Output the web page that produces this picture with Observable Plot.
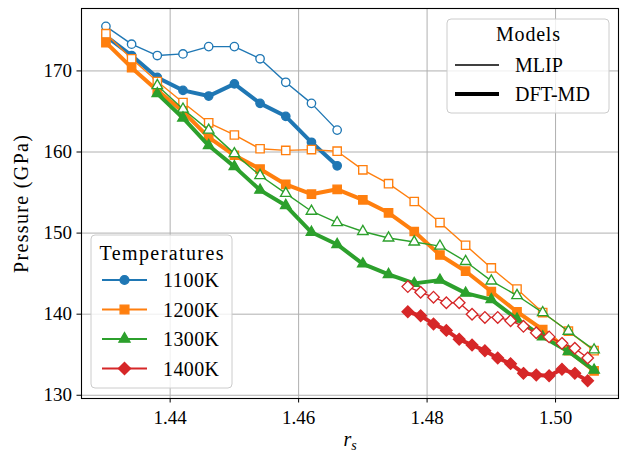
<!DOCTYPE html>
<html><head><meta charset="utf-8">
<script src="https://cdn.jsdelivr.net/npm/d3@7"></script>
<script src="https://cdn.jsdelivr.net/npm/@observablehq/plot@0.6"></script>
<style>
body{margin:0;background:#fff;}
#chart{width:620px;height:453px;}
</style></head><body><div id="chart"></div>
<script>
// ---- data ----
const temperatures = ["1100K", "1200K", "1300K", "1400K"];
const colors = ["#1f77b4", "#ff7f0e", "#2ca02c", "#d62728"];
const symbols = ["circle", "square", "triangle", "diamond2"];
const models = ["MLIP", "DFT-MD"];

const rs1100 = [1.430, 1.434, 1.438, 1.442, 1.446, 1.450, 1.454, 1.458, 1.462, 1.466];
const p1100_mlip = [175.5, 173.3, 171.9, 172.1, 173.0, 173.0, 171.5, 168.6, 166.0, 162.7];
const p1100_dft = [174.3, 171.9, 169.2, 167.6, 166.9, 168.4, 166.0, 164.4, 161.2, 158.3];

const rs1200 = [1.430, 1.434, 1.438, 1.442, 1.446, 1.450, 1.454, 1.458, 1.462, 1.466,
                1.470, 1.474, 1.478, 1.482, 1.486, 1.490, 1.494, 1.498, 1.502, 1.506];
const p1200_mlip = [174.6, 171.5, 168.7, 166.1, 163.6, 162.1, 160.4, 160.2, 160.3, 160.1,
                    157.8, 156.1, 153.9, 151.3, 148.5, 145.7, 143.1, 140.2, 137.9, 135.5];
const p1200_dft = [173.5, 170.4, 167.6, 165.0, 161.8, 159.6, 157.9, 156.0, 154.8, 155.4,
                   154.1, 152.5, 150.2, 147.3, 145.3, 142.8, 140.3, 138.1, 135.5, 133.0];

const rs1300 = [1.438, 1.442, 1.446, 1.450, 1.454, 1.458, 1.462, 1.466, 1.470, 1.474,
                1.478, 1.482, 1.486, 1.490, 1.494, 1.498, 1.502, 1.506];
const p1300_mlip = [168.2, 165.3, 162.7, 159.8, 157.1, 154.9, 152.7, 151.3, 150.2, 149.4,
                    148.9, 148.4, 146.5, 144.1, 142.3, 140.2, 137.9, 135.6];
const p1300_dft = [167.2, 164.2, 160.8, 158.2, 155.3, 153.4, 150.1, 148.6, 146.2, 144.9,
                   143.8, 144.2, 142.6, 141.8, 139.4, 137.2, 135.4, 133.1];

const rs1400 = [1.477, 1.479, 1.481, 1.483, 1.485, 1.487, 1.489, 1.491, 1.493, 1.495,
                1.497, 1.499, 1.501, 1.503, 1.505];
const p1400_mlip = [143.4, 142.7, 142.1, 141.4, 141.4, 140.0, 139.6, 139.6, 139.2, 138.5,
                    137.7, 137.2, 136.4, 135.8, 134.6];
const p1400_dft = [140.3, 139.8, 138.8, 138.0, 136.9, 136.2, 135.5, 134.6, 133.9, 132.7,
                   132.5, 132.4, 133.2, 132.7, 131.8];

const xTicks = [1.44, 1.46, 1.48, 1.50];
const yTicks = [130, 140, 150, 160, 170];

// ---- build ----
const groups = [
  [rs1100, p1100_mlip, p1100_dft],
  [rs1200, p1200_mlip, p1200_dft],
  [rs1300, p1300_mlip, p1300_dft],
  [rs1400, p1400_mlip, p1400_dft]
];
const markR = {circle: 4.2, square: 4.7, triangle: 3.9, diamond2: 5.2};
const FONT = "'Liberation Serif', 'DejaVu Serif', serif";

const marks = [
  Plot.gridX(xTicks, {stroke: "#b0b0b0", strokeOpacity: 1, strokeWidth: 1}),
  Plot.gridY(yTicks, {stroke: "#b0b0b0", strokeOpacity: 1, strokeWidth: 1})
];
groups.forEach(([xs, pm, pd], i) => {
  const c = colors[i], sym = symbols[i];
  const mlip = xs.map((x, j) => ({x, y: pm[j]}));
  const dft = xs.map((x, j) => ({x, y: pd[j]}));
  marks.push(Plot.line(mlip, {x: "x", y: "y", stroke: c, strokeWidth: 1.4}));
  marks.push(Plot.dot(mlip, {x: "x", y: "y", symbol: () => sym, r: markR[sym], fill: "white", stroke: c, strokeWidth: 1.35}));
  marks.push(Plot.line(dft, {x: "x", y: "y", stroke: c, strokeWidth: 4}));
  marks.push(Plot.dot(dft, {x: "x", y: "y", symbol: () => sym, r: markR[sym], fill: c, stroke: c, strokeWidth: 1.35}));
});
marks.push(Plot.frame({stroke: "black", strokeWidth: 1.1}));
marks.push(Plot.axisX(xTicks, {tickFormat: d => d.toFixed(2), tickSize: 4.5, tickPadding: 7, label: null, stroke: "black"}));
marks.push(Plot.axisY(yTicks, {tickSize: 4.5, tickPadding: 5, label: null, stroke: "black"}));

const svg = Plot.plot({
  width: 620, height: 453,
  marginLeft: 81, marginRight: 2, marginTop: 8, marginBottom: 55,
  x: {domain: [1.4262, 1.5098]},
  y: {domain: [129.6, 177.7]},
  style: {fontFamily: FONT, fontSize: "19px", color: "black", background: "white"},
  marks
});
document.getElementById("chart").appendChild(svg);

// ---- labels & legends ----
const s = d3.select(svg);
function txt(g, x, y, str, anchor, len) {
  const t = g.append("text").attr("x", x).attr("y", y).attr("text-anchor", anchor)
    .attr("dominant-baseline", "central").attr("font-size", 20).attr("fill", "black").text(str);
  if (len) t.attr("textLength", len).attr("lengthAdjust", "spacing");
  return t;
}
const xl = s.append("text").attr("x", 350).attr("y", 446).attr("text-anchor", "middle")
  .attr("font-size", 20).attr("fill", "black");
xl.append("tspan").attr("font-style", "italic").text("r");
xl.append("tspan").attr("font-style", "italic").attr("font-size", 14).attr("dy", 4).text("s");

const yl = s.append("g").attr("transform", "translate(21,204) rotate(-90)");
txt(yl, 0, 0, "Pressure (GPa)", "middle", 138);

function symPath(name, r) {
  const map = {circle: d3.symbolCircle, square: d3.symbolSquare, triangle: d3.symbolTriangle, diamond2: d3.symbolDiamond2};
  return d3.symbol(map[name], Math.PI * r * r)();
}

// Temperatures legend
const lt = s.append("g");
lt.append("rect").attr("x", 91).attr("y", 235).attr("width", 141).attr("height", 153).attr("rx", 4)
  .attr("fill", "white").attr("fill-opacity", 0.8).attr("stroke", "#cccccc").attr("stroke-width", 1);
txt(lt, 161.5, 253, "Temperatures", "middle", 124);
const entryY = [280, 309.5, 339, 368.5];
temperatures.forEach((t, i) => {
  const y = entryY[i];
  lt.append("line").attr("x1", 102).attr("x2", 147).attr("y1", y).attr("y2", y)
    .attr("stroke", colors[i]).attr("stroke-width", 2);
  lt.append("path").attr("d", symPath(symbols[i], markR[symbols[i]] * 1.05)).attr("transform", `translate(124.5,${y})`)
    .attr("fill", colors[i]).attr("stroke", colors[i]).attr("stroke-width", 1.35);
  txt(lt, 163, y, t, "start", 56);
});

// Models legend
const lm = s.append("g");
lm.append("rect").attr("x", 447).attr("y", 19).attr("width", 162).attr("height", 94).attr("rx", 4)
  .attr("fill", "white").attr("fill-opacity", 0.8).attr("stroke", "#cccccc").attr("stroke-width", 1);
txt(lm, 528, 34, "Models", "middle", 64);
const modelY = [65, 94];
const modelW = [1.4, 4];
models.forEach((m, i) => {
  lm.append("line").attr("x1", 455).attr("x2", 499).attr("y1", modelY[i]).attr("y2", modelY[i])
    .attr("stroke", "black").attr("stroke-width", modelW[i]);
  txt(lm, 515, modelY[i], m, "start", null);
});
</script>
</body></html>
